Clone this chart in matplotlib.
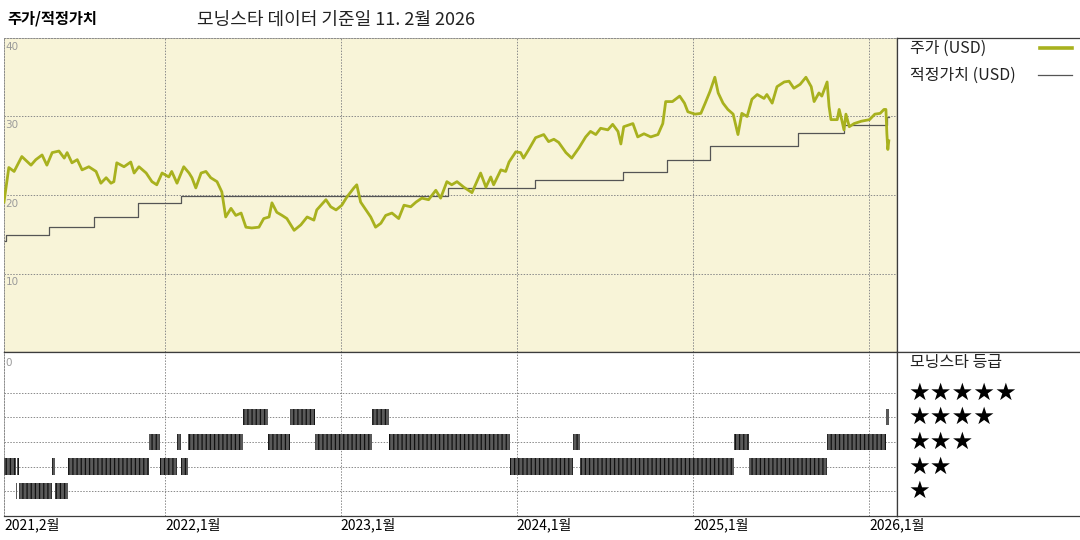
import pandas as pd
import matplotlib
matplotlib.use("Agg")
import matplotlib.pyplot as plt
import matplotlib.dates as mdates
from matplotlib.lines import Line2D

plt.rcParams['font.family'] = ['Noto Sans CJK KR', 'DejaVu Sans']
plt.rcParams['hatch.linewidth'] = 0.9

# price (USD)
price_dates = [
    "2021-02-01", "2021-02-11", "2021-02-22", "2021-03-10", "2021-03-29", "2021-04-08", "2021-04-21", "2021-05-01", "2021-05-12", "2021-05-26",
    "2021-06-06", "2021-06-12", "2021-06-22", "2021-07-03", "2021-07-13", "2021-07-27", "2021-08-11", "2021-08-21", "2021-09-01", "2021-09-11",
    "2021-09-17", "2021-09-23", "2021-10-08", "2021-10-22", "2021-10-29", "2021-11-08", "2021-11-23", "2021-12-05", "2021-12-15", "2021-12-26",
    "2022-01-09", "2022-01-15", "2022-01-26", "2022-02-09", "2022-02-20", "2022-02-26", "2022-03-06", "2022-03-17", "2022-03-27", "2022-04-06",
    "2022-04-19", "2022-04-29", "2022-05-07", "2022-05-18", "2022-05-28", "2022-06-08", "2022-06-18", "2022-06-30", "2022-07-15", "2022-07-25",
    "2022-08-05", "2022-08-11", "2022-08-21", "2022-09-01", "2022-09-11", "2022-09-26", "2022-10-10", "2022-10-23", "2022-11-06", "2022-11-12",
    "2022-12-01", "2022-12-11", "2022-12-22",
    "2023-01-03", "2023-01-13", "2023-01-28", "2023-02-03", "2023-02-11", "2023-02-22", "2023-03-04", "2023-03-14", "2023-03-25", "2023-04-04",
    "2023-04-17", "2023-05-01", "2023-05-12", "2023-05-26", "2023-06-06", "2023-06-18", "2023-07-02", "2023-07-17", "2023-07-27", "2023-08-09",
    "2023-08-19", "2023-08-30", "2023-09-13", "2023-09-30", "2023-10-10", "2023-10-18", "2023-10-29", "2023-11-08", "2023-11-14", "2023-11-29",
    "2023-12-09", "2023-12-16", "2023-12-30",
    "2024-01-09", "2024-01-15", "2024-01-26", "2024-02-09", "2024-02-26", "2024-03-07", "2024-03-18", "2024-03-28", "2024-04-12", "2024-04-24",
    "2024-05-09", "2024-05-23", "2024-06-02", "2024-06-13", "2024-06-23", "2024-07-08", "2024-07-18", "2024-07-29", "2024-08-04", "2024-08-10",
    "2024-08-29", "2024-09-08", "2024-09-21", "2024-10-05", "2024-10-20", "2024-10-30", "2024-11-05", "2024-11-19", "2024-12-04", "2024-12-14",
    "2024-12-21",
    "2025-01-05", "2025-01-17", "2025-01-26", "2025-02-05", "2025-02-15", "2025-02-22", "2025-03-04", "2025-03-14", "2025-03-25", "2025-04-04",
    "2025-04-12", "2025-04-23", "2025-05-03", "2025-05-14", "2025-05-28", "2025-06-03", "2025-06-14", "2025-06-24", "2025-07-09", "2025-07-19",
    "2025-07-29", "2025-08-11", "2025-08-23", "2025-09-03", "2025-09-09", "2025-09-19", "2025-09-25", "2025-10-06", "2025-10-10", "2025-10-14",
    "2025-10-27", "2025-10-31", "2025-11-06", "2025-11-10", "2025-11-14", "2025-11-21", "2025-12-01", "2025-12-16",
    "2026-01-02", "2026-01-13", "2026-01-24", "2026-02-01", "2026-02-05", "2026-02-07", "2026-02-09", "2026-02-11"]
price_vals = [
    19.1, 23.5, 23.0, 24.9, 23.8, 24.5, 25.1, 23.8, 25.4, 25.6,
    24.7, 25.4, 24.1, 24.5, 23.2, 23.6, 23.0, 21.5, 22.2, 21.5,
    21.7, 24.1, 23.6, 24.2, 22.8, 23.6, 22.8, 21.7, 21.3, 22.8,
    22.3, 23.0, 21.5, 23.6, 22.8, 22.2, 20.9, 22.8, 23.0, 22.2,
    21.7, 20.4, 17.2, 18.3, 17.4, 17.7, 15.9, 15.8, 15.9, 17.0,
    17.2, 19.0, 17.8, 17.4, 17.0, 15.5, 16.2, 17.2, 16.8, 18.1,
    19.4, 18.5, 18.1,
    18.7, 19.7, 20.9, 21.3, 19.1, 18.1, 17.2, 15.9, 16.4, 17.4,
    17.7, 17.0, 18.7, 18.5, 19.1, 19.6, 19.4, 20.6, 19.6, 21.7,
    21.3, 21.7, 21.0, 20.3, 21.7, 22.8, 21.0, 22.3, 21.3, 23.2,
    23.0, 24.2, 25.5,
    25.4, 24.7, 25.8, 27.3, 27.7, 26.8, 27.1, 26.7, 25.4, 24.7,
    26.0, 27.4, 28.1, 27.7, 28.5, 28.3, 29.0, 28.1, 26.5, 28.7,
    29.1, 27.4, 27.8, 27.4, 27.7, 29.1, 31.9, 31.9, 32.6, 31.7,
    30.6,
    30.3, 30.4, 31.7, 33.2, 35.0, 33.0, 31.7, 30.9, 30.3, 27.7,
    30.4, 30.0, 32.2, 32.8, 32.3, 32.8, 31.7, 33.8, 34.4, 34.5,
    33.6, 34.1, 35.0, 33.8, 31.9, 33.0, 32.6, 34.4, 31.3, 29.6,
    29.6, 30.9, 29.4, 28.3, 30.3, 28.7, 29.1, 29.4,
    29.6, 30.3, 30.4, 30.9, 30.9, 27.8, 25.8, 26.9]

# fair value steps
fv_dates = ["2021-02-01", "2021-02-05", "2021-05-05", "2021-08-07", "2021-11-06", "2022-02-03", "2023-08-11",
            "2024-02-07", "2024-08-08", "2024-11-07", "2025-02-05", "2025-08-07", "2025-11-10", "2026-02-07"]
fv_vals = [14.2, 14.9, 15.9, 17.2, 19.0, 19.9, 20.9, 21.9, 22.9, 24.4, 26.3, 27.9, 28.9, 29.9]
last_date = "2026-02-11"

# morningstar rating periods
rating_start = ["2021-02-01", "2021-02-25", "2021-03-01", "2021-03-05", "2021-05-11", "2021-05-17", "2021-06-13",
                "2021-11-28", "2021-12-21", "2022-01-25", "2022-02-04", "2022-02-17", "2022-06-11", "2022-08-02",
                "2022-09-18", "2022-11-09", "2023-03-07", "2023-04-10", "2023-12-19", "2024-04-26", "2024-05-11",
                "2025-03-26", "2025-04-26", "2025-10-05", "2026-02-06"]
ratings = [2, 1, 2, 1, 2, 1, 2, 3, 2, 3, 2, 3, 4, 3, 4, 3, 4, 3, 2, 3, 2, 3, 2, 3, 4]

tick_dates = ["2021-02-01", "2022-01-01", "2023-01-01", "2024-01-01", "2025-01-01", "2026-01-01"]
tick_labels = ["2021,2월", "2022,1월", "2023,1월", "2024,1월", "2025,1월", "2026,1월"]
year_lines = ["2022-01-01", "2023-01-01", "2024-01-01", "2025-01-01", "2026-01-01"]

x0 = pd.Timestamp("2021-02-01")
x1 = pd.Timestamp("2026-02-28")

W, H = 1080, 540
fig = plt.figure(figsize=(10.8, 5.4), dpi=100)

def box(l, t, r, b):
    return [l / W, 1 - b / H, (r - l) / W, (b - t) / H]

ax = fig.add_axes(box(4, 38, 897, 352))
axb = fig.add_axes(box(4, 352, 897, 516))
axr = fig.add_axes(box(897, 38, 1080, 352))
axrb = fig.add_axes(box(897, 352, 1080, 516))

gridkw = dict(color="#8a8a8a", linestyle=(0, (1.5, 1.5)), linewidth=0.7)
dark = "#3c3c3c"

# ---- top panel: price and fair value
ax.set_facecolor("#f8f4d8")
ax.plot(pd.to_datetime(price_dates), price_vals, color="#a8b11e", lw=2.0, solid_joinstyle="round", zorder=3)
ax.step(pd.to_datetime(fv_dates + [last_date]), fv_vals + [fv_vals[-1]], where="post", color="#555555", lw=0.9, zorder=2)
ax.set_xlim(x0, x1)
ax.set_ylim(0, 40)
ax.set_yticks([10, 20, 30])
ax.set_xticks(pd.to_datetime(year_lines))
ax.tick_params(length=0, labelleft=False, labelbottom=False)
ax.grid(True, **gridkw)
for v in [40, 30, 20, 10]:
    ax.text(x0 + pd.Timedelta(days=3), v - 0.5, str(v), color="#9a9a9a", fontsize=7.5, va="top", ha="left",
            family=["DejaVu Sans"], zorder=1)
ax.spines["left"].set(color="#8a8a8a", linestyle=(0, (1.5, 1.5)), linewidth=0.7)
ax.spines["top"].set(color="#8a8a8a", linestyle=(0, (1.5, 1.5)), linewidth=0.7)
ax.spines["right"].set(color=dark, linewidth=0.9)
ax.spines["bottom"].set(color=dark, linewidth=0.9)

# ---- bottom panel: ratings
for i, s in enumerate(rating_start):
    e = rating_start[i + 1] if i + 1 < len(rating_start) else last_date
    a = mdates.date2num(pd.Timestamp(s))
    b = mdates.date2num(pd.Timestamp(e))
    axb.broken_barh([(a, b - a)], (ratings[i] - 0.33, 0.66), facecolor="#5a5a5a",
                    edgecolor="#111111", hatch="||||", linewidth=0, zorder=3)
axb.set_xlim(x0, x1)
axb.set_ylim(0, 6.64)
axb.set_yticks([1, 2, 3, 4, 5])
axb.set_xticks(pd.to_datetime(tick_dates))
axb.set_xticklabels(tick_labels, ha="left", fontsize=10)
axb.tick_params(axis="x", length=0, pad=1)
axb.tick_params(axis="y", length=0, labelleft=False)
axb.grid(True, axis="y", **gridkw)
for d in year_lines:
    axb.axvline(pd.Timestamp(d), **gridkw)
axb.text(x0 + pd.Timedelta(days=3), 6.4, "0", color="#9a9a9a", fontsize=7.5, va="top", ha="left", family=["DejaVu Sans"])
axb.spines["left"].set(color="#8a8a8a", linestyle=(0, (1.5, 1.5)), linewidth=0.7)
axb.spines["top"].set(color=dark, linewidth=0.9)
axb.spines["right"].set(color=dark, linewidth=0.9)
axb.spines["bottom"].set(color=dark, linewidth=0.9)

# ---- right panels: legend and star key
for a in (axr, axrb):
    a.set_xticks([])
    a.set_yticks([])
    a.set_xlim(0, 1)
    a.spines["right"].set_visible(False)
    for sp in ("top", "left", "bottom"):
        a.spines[sp].set(color=dark, linewidth=0.9)

axr.set_ylim(0, 1)
axr.text(0.07, 0.968, "주가 (USD)", fontsize=11.5, va="center", ha="left", color="#222222")
axr.add_line(Line2D([0.78, 0.955], [0.968, 0.968], color="#a8b11e", lw=2.6))
axr.text(0.07, 0.882, "적정가치 (USD)", fontsize=11.5, va="center", ha="left", color="#222222")
axr.add_line(Line2D([0.77, 0.955], [0.882, 0.882], color="#555555", lw=0.9))

axrb.set_ylim(0, 6.64)
axrb.text(0.07, 6.2, "모닝스타 등급", fontsize=11.5, va="center", ha="left", color="#222222")
for r in [5, 4, 3, 2, 1]:
    axrb.text(0.06, r, "★" * r, fontsize=17.5, va="center", ha="left", color="black", family=["DejaVu Sans"])

fig.text(7 / W, 1 - 19 / H, "주가/적정가치", fontsize=11, fontweight="bold", va="center", ha="left")
fig.text(197 / W, 1 - 20 / H, "모닝스타 데이터 기준일 11. 2월 2026", fontsize=13, va="center", ha="left", color="#222222")

fig.savefig("out.png", dpi=100)
